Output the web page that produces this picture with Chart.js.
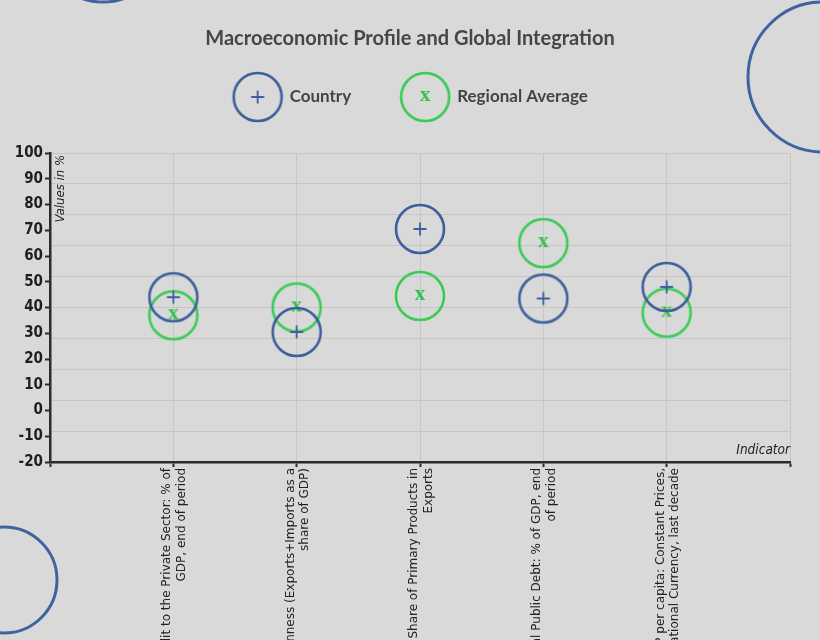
<!DOCTYPE html>
<html>
<head>
<meta charset="utf-8">
<title>Macroeconomic Profile and Global Integration</title>
<script src="https://cdn.jsdelivr.net/npm/chart.js@4.4.1/dist/chart.umd.min.js"></script>
<style>
  html, body { margin: 0; padding: 0; background: #d9d9d9; }
  #wrap { width: 820px; height: 640px; }
</style>
</head>
<body>
<div id="wrap"><canvas id="chart" width="820" height="640"></canvas></div>
<script>
// categorias (cada una partida en dos lineas, como en el grafico original)
var categories = [
  ['Domestic Credit to the Private Sector: % of', 'GDP, end of period'],
  ['Trade Openness (Exports+Imports as a', 'share of GDP)'],
  ['Share of Primary Products in', 'Exports'],
  ['General Public Debt: % of GDP, end', 'of period'],
  ['Growth of GDP per capita: Constant Prices,', 'National Currency, last decade']
];
var seriesNames = ['Country', 'Regional Average'];
var countryValues = [44, 30.5, 70.5, 43.5, 48];
var regionalValues = [37, 40, 44.5, 65, 38];
var yTicks = { min: -20, max: 100, step: 10 };

var BLUE = '#3d5f9b';
var GREEN = '#3acb57';

// marcador: circulo con el simbolo dentro (+ o x)
function marker(color, symbol, leftPad) {
  var r = 24, size = 54;
  var c = document.createElement('canvas');
  c.width = size + leftPad;
  c.height = size;
  var g = c.getContext('2d');
  var cx = leftPad + size / 2, cy = size / 2;
  g.strokeStyle = color;
  g.lineWidth = 2.6;
  g.beginPath();
  g.arc(cx, cy, r, 0, Math.PI * 2);
  g.stroke();
  if (symbol === '+') {
    g.lineWidth = 1.8;
    g.beginPath();
    g.moveTo(cx - 6.5, cy); g.lineTo(cx + 6.5, cy);
    g.moveTo(cx, cy - 6.5); g.lineTo(cx, cy + 6.5);
    g.stroke();
  } else {
    g.fillStyle = '#30c04c';
    g.font = 'bold 21px "Liberation Serif", "DejaVu Serif", serif';
    g.textAlign = 'center';
    g.textBaseline = 'middle';
    g.fillText('x', cx, cy - 1);
  }
  return c;
}

var countryPoint = marker(BLUE, '+', 0);
var regionalPoint = marker(GREEN, 'x', 0);
var legendPoints = [marker(BLUE, '+', 2), marker(GREEN, 'x', 2)];

// fondo, circulos decorativos y textos de los ejes
var decor = {
  id: 'decor',
  beforeUpdate: function (chart) {
    // la leyenda se recorta a su caja: le damos algo mas de alto para los circulos
    var lg = chart.legend;
    if (lg && !lg._tall) {
      var fit = lg.fit;
      lg.fit = function () { fit.call(this); this.height += 8; };
      lg._tall = true;
    }
  },
  beforeDraw: function (chart) {
    var g = chart.ctx;
    g.save();
    g.fillStyle = '#d9d9d9';
    g.fillRect(0, 0, chart.width, chart.height);
    g.strokeStyle = '#3f63a0';
    g.lineWidth = 3;
    [[103, -60, 62], [823, 77, 75], [4, 580, 53]].forEach(function (d) {
      g.beginPath();
      g.arc(d[0], d[1], d[2], 0, Math.PI * 2);
      g.stroke();
    });
    g.restore();
  },
  afterDraw: function (chart) {
    var g = chart.ctx, a = chart.chartArea;
    g.save();
    g.fillStyle = '#222';
    g.font = 'italic 13.5px "Liberation Sans Narrow", "DejaVu Sans Condensed", sans-serif';
    g.textAlign = 'right';
    g.textBaseline = 'bottom';
    g.fillText('Indicator', a.right, a.bottom - 5);
    g.font = 'italic 13px "Liberation Sans Narrow", "DejaVu Sans Condensed", sans-serif';
    g.translate(a.left + 17, a.top + 2);
    g.rotate(-Math.PI / 2);
    g.fillText('Values in %', 0, 0);
    g.restore();
  }
};

var ctx = document.getElementById('chart');
var myChart = new Chart(ctx, {
  type: 'line',
  data: {
    labels: [''].concat(categories, ['']),
    datasets: [{
      label: seriesNames[0],
      data: [null].concat(countryValues, [null]),
      xAxisID: 'x',
      yAxisID: 'y',
      pointStyle: countryPoint,
      borderColor: BLUE,
      backgroundColor: BLUE,
      showLine: false
    }, {
      label: seriesNames[1],
      data: [null].concat(regionalValues, [null]),
      xAxisID: 'x',
      yAxisID: 'y',
      pointStyle: regionalPoint,
      borderColor: GREEN,
      backgroundColor: GREEN,
      showLine: false
    }]
  },
  options: {
    responsive: false,
    animation: false,
    events: [],
    layout: { padding: 0 },
    plugins: {
      tooltip: { enabled: false },
      title: {
        display: true,
        text: 'Macroeconomic Profile and Global Integration',
        color: '#464646',
        font: { family: 'Lato, "Open Sans", sans-serif', size: 20, weight: 'bold', lineHeight: 0.1 },
        padding: { top: 38, bottom: 0 }
      },
      legend: {
        display: true,
        labels: {
          usePointStyle: true,
          pointStyleWidth: 49,
          padding: 48.5,
          color: '#444',
          font: { family: 'Lato, "Open Sans", sans-serif', size: 17, weight: 'bold' },
          generateLabels: function (chart) {
            var items = Chart.defaults.plugins.legend.labels.generateLabels(chart);
            items.forEach(function (it) { it.pointStyle = legendPoints[it.datasetIndex]; });
            return items;
          }
        }
      }
    },
    scales: {
      x: {
        offset: false,
        grid: { color: '#c6c6c6', lineWidth: 1, tickLength: 5, tickColor: '#2b2b2b', tickWidth: 2 },
        border: { color: '#2b2b2b', width: 2.5 },
        ticks: {
          autoSkip: false,
          minRotation: 90,
          maxRotation: 90,
          padding: 1,
          labelOffset: -6,
          color: '#222',
          font: { family: '"DejaVu Sans", sans-serif', size: 12 }
        },
        afterFit: function (s) { s.height = 178; }
      },
      y: {
        min: yTicks.min,
        max: yTicks.max,
        grid: { drawOnChartArea: false, tickLength: 5, tickColor: '#2b2b2b', tickWidth: 2 },
        border: { color: '#2b2b2b', width: 2.5 },
        ticks: {
          stepSize: yTicks.step,
          padding: 2,
          color: '#1e1e1e',
          font: { family: '"Liberation Sans Narrow", "DejaVu Sans Condensed", sans-serif', size: 15, weight: 'bold' }
        },
        afterFit: function (s) { s.width = 50; }
      },
      spacer: {
        type: 'linear',
        position: 'top',
        grid: { display: false },
        border: { display: false },
        ticks: { display: false },
        afterFit: function (s) { s.height = 29.5; }
      },
      yGrid: {
        position: 'right',
        min: 0,
        max: 10,
        grid: { color: '#c6c6c6', lineWidth: 1, drawTicks: false },
        border: { display: false },
        ticks: { display: false, stepSize: 1 },
        afterFit: function (s) { s.width = 30; }
      }
    }
  },
  plugins: [decor]
});
</script>
</body>
</html>
